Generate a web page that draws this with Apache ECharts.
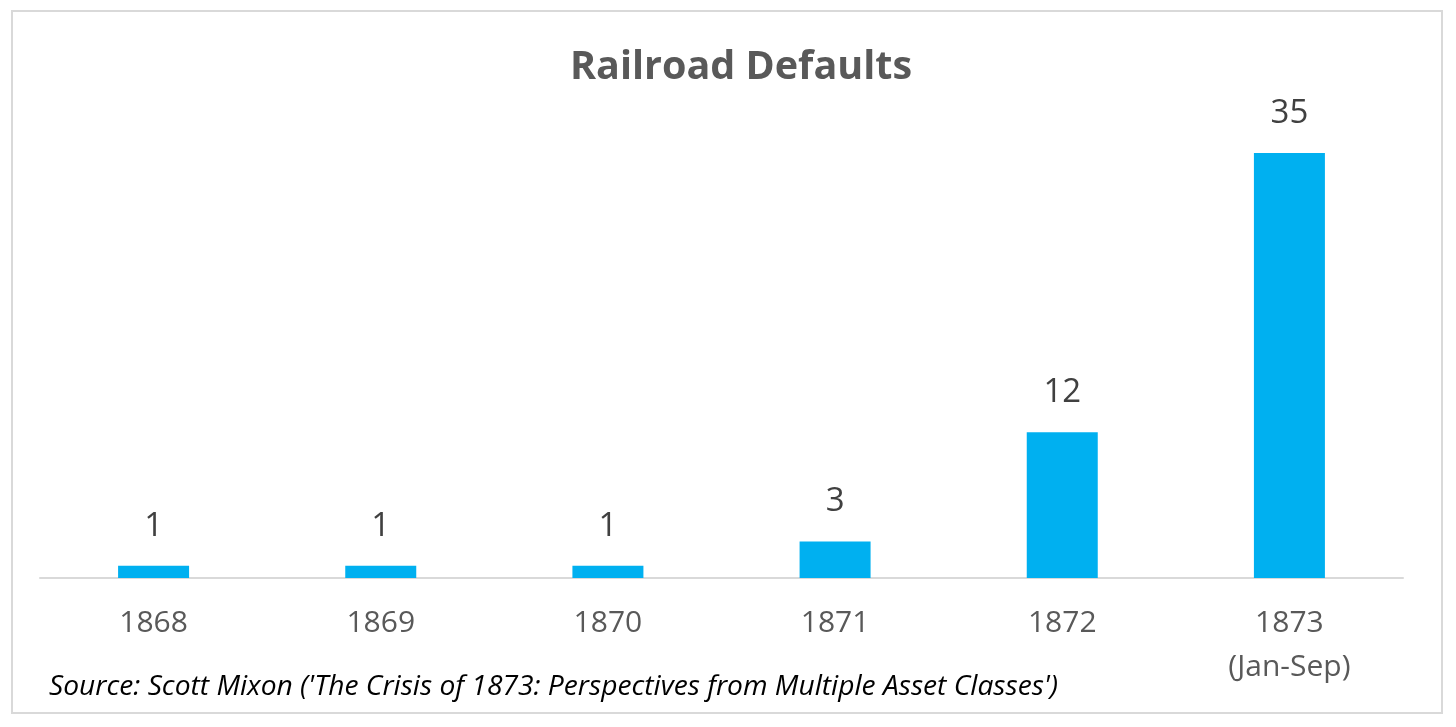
<!DOCTYPE html>
<html>
<head>
<meta charset="utf-8">
<script src="https://cdn.jsdelivr.net/npm/echarts@6/dist/echarts.min.js"></script>
<style>
html,body{margin:0;padding:0;background:#fff;}
#c{width:1456px;height:727px;}
</style>
</head>
<body>
<div id="c"></div>
<script>
const categories = ['1868', '1869', '1870', '1871', '1872', '1873\n(Jan-Sep)'];
const defaults = [1, 1, 1, 3, 12, 35];
const titleText = 'Railroad Defaults';
const sourceText = "Source: Scott Mixon ('The Crisis of 1873: Perspectives from Multiple Asset Classes')";

const chart = echarts.init(document.getElementById('c'));
chart.setOption({
  animation: false,
  backgroundColor: '#fff',
  graphic: [{
    type: 'rect',
    shape: { x: 12, y: 11, width: 1430, height: 702 },
    style: { fill: 'none', stroke: '#d9d9d9', lineWidth: 2 },
    silent: true
  }],
  title: [{
    text: titleText,
    left: 736,
    top: 43,
    textAlign: 'center',
    textStyle: { fontFamily: 'Open Sans', fontWeight: 'bold', fontSize: 39.5, color: '#595959' }
  }, {
    text: sourceText,
    left: 44,
    top: 668,
    textStyle: { fontFamily: 'Open Sans', fontStyle: 'italic', fontWeight: 'normal', fontSize: 28.2, color: '#000' }
  }],
  grid: { left: 40, right: 53, top: 92.4, bottom: 149 },
  xAxis: {
    type: 'category',
    data: categories,
    axisLine: { lineStyle: { color: '#d9d9d9', width: 2 } },
    axisTick: { show: false },
    axisLabel: {
      fontFamily: 'Open Sans', fontSize: 30, color: '#595959',
      margin: 23, lineHeight: 44
    }
  },
  yAxis: {
    type: 'value', min: 0, max: 40, show: false,
    splitLine: { show: false }
  },
  series: [{
    type: 'bar',
    data: defaults,
    barWidth: 71,
    itemStyle: { color: '#00B0F0' },
    label: {
      show: true, position: 'top', distance: 23,
      fontFamily: 'Open Sans', fontSize: 33, color: '#404040'
    }
  }]
});
</script>
</body>
</html>
